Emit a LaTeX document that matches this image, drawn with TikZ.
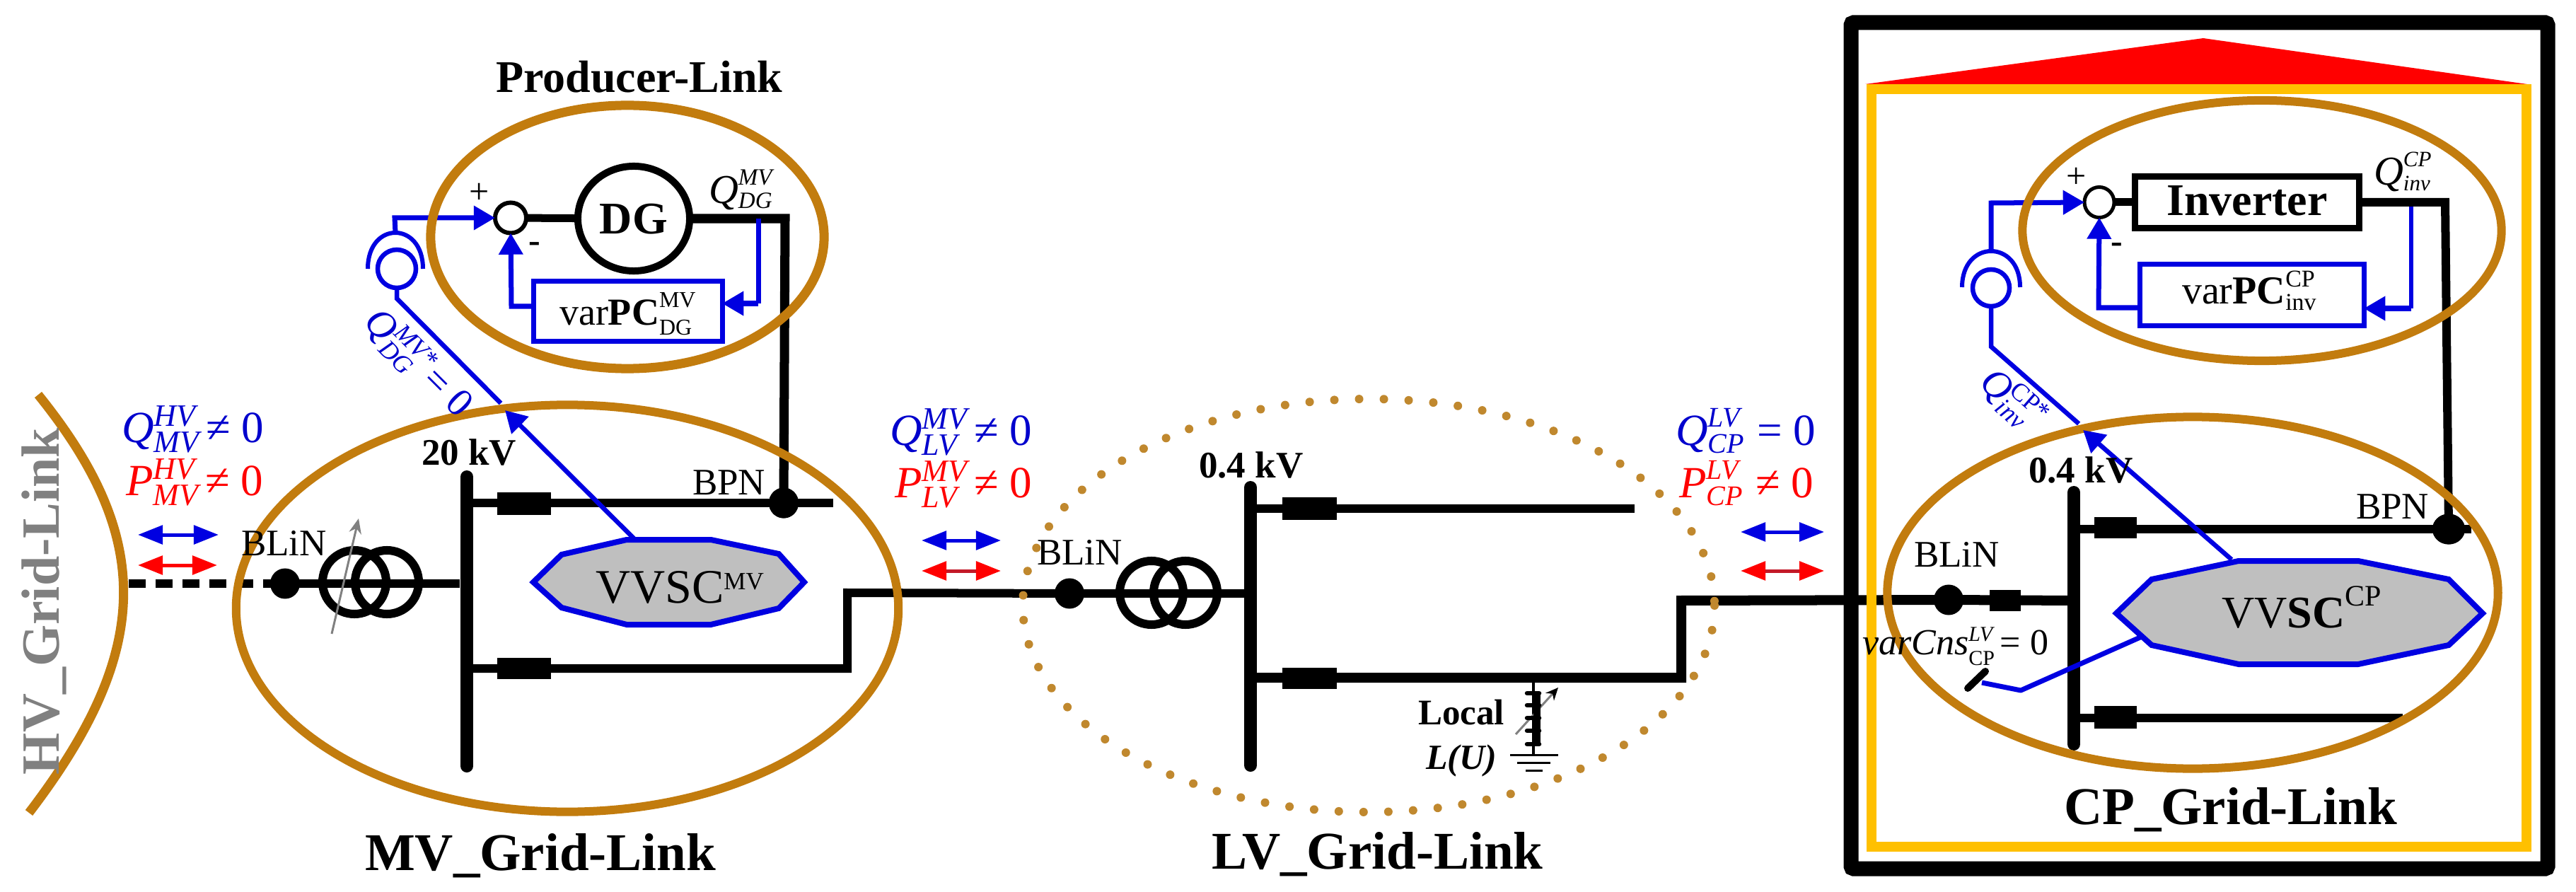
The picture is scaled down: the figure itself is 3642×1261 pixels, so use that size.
\documentclass[tikz,border=0pt]{standalone}
\usepackage{fontspec}
\setmainfont{Liberation Serif}
\usetikzlibrary{arrows.meta,shapes.geometric}
\def\p{0.2845pt}
\newcommand\fpx[1]{\fontsize{\fpeval{#1*0.2845}}{\fpeval{#1*0.34}}\selectfont}
% sup, sub, size(px), raise sup(px), raise sub(px)
\newcommand\scr[5]{\begingroup\fpx{#3}\sbox0{#1}\sbox2{#2}\dimen0=\wd0 \ifdim\wd2>\dimen0 \dimen0=\wd2\fi
\rlap{\raisebox{\fpeval{#4*0.2845}pt}{\usebox0}}\makebox[\dimen0][l]{\raisebox{\fpeval{#5*0.2845}pt}{\usebox2}}\endgroup}
\definecolor{brownc}{RGB}{194,124,14}
\definecolor{dotc}{RGB}{192,136,46}
\definecolor{blueL}{RGB}{0,0,225}
\definecolor{blueT}{RGB}{0,0,205}
\definecolor{grayV}{RGB}{191,191,191}
\definecolor{yellowC}{RGB}{255,192,0}
\definecolor{redD}{RGB}{195,25,40}
\tikzset{
 x=0.01cm,y=-0.01cm,
 txt/.style={inner sep=0pt,outer sep=0pt,anchor=base west},
 busbar/.style={draw=black,line width=18*\p,line cap=round},
 wire/.style={draw=black,line width=12*\p,line join=miter},
 thickwire/.style={draw=black,line width=14*\p,line join=miter},
 bdot/.style={ellipse,fill=black,inner sep=0pt,outer sep=0pt,minimum width=42*\p,minimum height=43*\p},
 breaker/.style={rectangle,fill=black,inner sep=0pt,outer sep=0pt},
 trafo/.style={circle,draw=black,line width=12*\p,inner sep=0pt,outer sep=0pt,minimum size=90*\p},
 link/.style={ellipse,draw=brownc,inner sep=0pt,outer sep=0pt,line width=12*\p},
 ctrl/.style={draw=blueL,line width=7*\p,line join=miter},
 vvsc/.style={draw=blueL,fill=grayV,line width=8*\p,line join=miter},
 sumc/.style={ellipse,draw=black,fill=white,line width=6*\p,inner sep=0pt,outer sep=0pt,minimum width=44*\p,minimum height=43*\p},
 bluebox/.style={rectangle,draw=blueL,line width=7*\p,inner sep=0pt,outer sep=0pt},
 flowB/.style={draw=blueL,line width=5*\p,{Triangle[length=10pt,width=7.5pt]}-{Triangle[length=10pt,width=7.5pt]}},
 flowR/.style={draw=red,line width=5*\p,{Triangle[length=10pt,width=7.5pt]}-{Triangle[length=10pt,width=7.5pt]}},
 flowRD/.style={draw=redD,line width=5*\p,{Triangle[length=10pt,width=7.5pt,color=red]}-{Triangle[length=10pt,width=7.5pt,color=red]}},
 headC/.style={-{Triangle[length=8.6pt,width=9.4pt]}},
 title/.style={txt,font=\fpx{75}\bfseries},
 lbl/.style={txt,font=\fpx{53}},
 lblb/.style={txt,font=\fpx{53}\bfseries},
 qb/.style={txt,font=\fpx{63},text=blueT},
 qr/.style={txt,font=\fpx{63},text=red},
 sgn/.style={inner sep=0pt,outer sep=0pt,font=\fpx{50}},
}
\begin{document}
\begin{tikzpicture}
\useasboundingbox (0,0) rectangle (3642,1261);
\fill[white] (0,0) rectangle (3642,1261);

% customer premises frame
\draw[line width=21*\p,line join=miter,rounded corners=1pt] (2617,32) rectangle (3602,1228);

% named positions
\coordinate (hvend) at (182,825);
\coordinate (mvbusT) at (660,674);
\coordinate (mvbusB) at (660,1083);
\coordinate (mvU) at (660,711);
\coordinate (mvUe) at (1178,711);
\coordinate (mvL) at (660,945);
\coordinate (mvLc) at (1198,945);
\coordinate (mvLd) at (1198,838);
\coordinate (lvbusT) at (1768,689);
\coordinate (lvbusB) at (1768,1082);
\coordinate (lvU) at (1768,719);
\coordinate (lvUe) at (2311,719);
\coordinate (lvL) at (1768,958);
\coordinate (lvLc) at (2377,958);
\coordinate (lvLd) at (2377,849);
\coordinate (cpbusT) at (2932,696);
\coordinate (cpbusB) at (2932,1052);
\coordinate (cpU) at (2932,748);
\coordinate (cpUe) at (3494,748);
\coordinate (cpL) at (2932,1015);
\coordinate (cpLe) at (3397,1015);
\coordinate (cpH) at (2932,849);
\coordinate (dgC) at (1110,309);
\coordinate (invC) at (3457,286);

% nodes of the network
\node[bdot] (blinMV) at (403,825) {};
\node[bdot] (bpnMV) at (1108,711) {};
\node[bdot] (blinLV) at (1512,839) {};
\node[bdot] (blinCP) at (2755,848) {};
\node[bdot,minimum width=46*\p] (bpnCP) at (3462,748) {};

% black wiring
\draw[wire,line width=12*\p,dash pattern=on 6.8pt off 4pt] (hvend) -- (blinMV.center);
\draw[wire] (blinMV.center) -- (650,825);
\draw[wire] (mvU) -- (mvUe);
\draw[wire] (mvL) -- (mvLc) -- (mvLd) -- (blinLV.center);
\draw[wire] (blinLV.center) -- (1760,839);
\draw[wire] (lvU) -- (lvUe);
\draw[thickwire] (lvL) -- (lvLc) -- (lvLd) -- (blinCP.center);
\draw[thickwire] (blinCP.center) -- (cpH);
\draw[wire] (cpU) -- (cpUe);
\draw[wire] (cpL) -- (cpLe);
\draw[busbar] (mvbusT) -- (mvbusB);
\draw[busbar] (lvbusT) -- (lvbusB);
\draw[busbar] (cpbusT) -- (cpbusB);

% transformers
\node[trafo] (t1a) at (501,823) {};
\node[trafo] (t1b) at (547,823) {};
\node[trafo] (t2a) at (1628,838) {};
\node[trafo] (t2b) at (1676,838) {};
\draw[draw=gray,line width=3*\p,-{Stealth[length=6pt,width=5pt]}] (469,896) -- (507,733);

% breakers
\node[breaker,minimum width=76*\p,minimum height=32*\p] (br1) at (741,712) {};
\node[breaker,minimum width=76*\p,minimum height=30*\p] (br2) at (741,945) {};
\node[breaker,minimum width=77*\p,minimum height=31*\p] (br3) at (1851,719) {};
\node[breaker,minimum width=77*\p,minimum height=30*\p] (br4) at (1851,959) {};
\node[breaker,minimum width=60*\p,minimum height=30*\p] (br5) at (2991,746) {};
\node[breaker,minimum width=60*\p,minimum height=32*\p] (br6) at (2991,1014) {};
\node[breaker,minimum width=44*\p,minimum height=30*\p] (br7) at (2835,849) {};

% local inductance
\coordinate (indT) at (2168,965);
\coordinate (gnd) at (2168,1067);
\draw[line width=3.5*\p] (indT) -- (gnd);
\draw[line width=3*\p,draw=gray,-{Stealth[length=5pt,width=4.5pt,color=black]}] (2143,1038) -- (2203,972);
\draw[line width=10*\p] (2173,980) -- (2173,1052);
\foreach \yy in {980,997,1015,1033,1052}
  \draw[line width=6.5*\p,line cap=round] (2159,\yy) -- (2176,\yy);
\draw[line width=3*\p] (2135,1067) -- (2203,1067);
\draw[line width=3*\p] (2145,1078) -- (2192,1078);
\draw[line width=3*\p] (2157,1089) -- (2181,1089);

% yellow house and red roof
\draw[draw=yellowC,line width=14*\p,line join=miter] (2646,126) rectangle (3572,1197);
\fill[red] (2637,119) -- (3115,54) -- (3573,119) -- cycle;

% producer control
\node[sumc] (sum1) at (722,308) {};
\node[circle,draw=black,fill=white,line width=10*\p,inner sep=0pt,outer sep=0pt,ellipse,minimum width=158*\p,minimum height=148*\p] (dg) at (896,309) {};
\node[bluebox,minimum width=266*\p,minimum height=85*\p] (pc1) at (888,440) {};
\draw[draw=black,line width=11*\p] (sum1) -- (dg);
\draw[draw=black,line width=13*\p,line join=miter] (dg) -- (dgC) -- (bpnMV.center);
\node[bdot] (bpnMVb) at (bpnMV) {};
\coordinate (fb1) at (1072,309);
\coordinate (fb1b) at (1072,429);
\draw[ctrl] (fb1) -- (fb1b);
\draw[ctrl,headC] (fb1b) -- (pc1.east|-fb1b);
\draw[ctrl,headC] (pc1.west|-0,433) -- (723,433) -- (sum1.south);

% sensor, producer
\node[circle,draw=blueL,line width=6.5*\p,inner sep=0pt,outer sep=0pt,minimum size=54*\p] (sens1) at (561,380) {};
\coordinate (sens1top) at (559,329);
\draw[draw=blueL,line width=6*\p] (520,380) .. controls (520,312) and (598,312) .. (598,380);
\draw[ctrl,headC] (sens1top) -- (558,308) -- (sum1.west);
\coordinate (kn1) at (561,422);
\coordinate (arr1) at (708,570);
\draw[draw=blueL,line width=6.5*\p,line join=miter] (sens1.south) -- (kn1) -- (arr1);

% inverter control
\node[sumc,minimum width=42*\p,line width=5*\p] (sum2) at (2968,286) {};
\node[rectangle,draw=black,fill=white,line width=9*\p,inner sep=0pt,outer sep=0pt,minimum width=316*\p,minimum height=72*\p] (inv) at (3177,286) {};
\node[bluebox,minimum width=316*\p,minimum height=87*\p] (pc2) at (3184,417) {};
\draw[draw=black,line width=11*\p] (sum2) -- (inv);
\draw[draw=black,line width=12*\p,line join=miter] (inv) -- (invC) -- (bpnCP.center);
\node[bdot,minimum width=46*\p] (bpnCPb) at (bpnCP) {};
\coordinate (fb2) at (3409,292);
\coordinate (fb2b) at (3409,436);
\draw[ctrl,line width=6*\p] (fb2) -- (fb2b);
\draw[ctrl,headC] (fb2b) -- (pc2.east|-fb2b);
\draw[ctrl,headC] (pc2.west|-0,435) -- (2967,435) -- (sum2.south);

% sensor, inverter
\node[circle,draw=blueL,line width=6.5*\p,inner sep=0pt,outer sep=0pt,minimum size=52*\p] (sens2) at (2815,407) {};
\coordinate (sens2top) at (2815,355);
\draw[draw=blueL,line width=6*\p] (2774,406) .. controls (2774,338) and (2856,338) .. (2856,406);
\draw[ctrl,headC] (sens2top) -- (2815,287) -- (sum2.west);
\coordinate (kn2) at (2815,490);
\coordinate (arr2) at (2939,599);
\draw[draw=blueL,line width=6.5*\p,line join=miter] (sens2.south) -- (kn2) -- (arr2);

% VVSC shapes
\draw[vvsc] (754,823) -- (794,784) -- (886,763) -- (1005,763) -- (1101,783) -- (1137,823) -- (1101,860) -- (1005,883) -- (886,883) -- (794,859) -- cycle;
\draw[vvsc] (2992,867) -- (3042,819) -- (3165,793) -- (3334,793) -- (3462,819) -- (3510,867) -- (3462,912) -- (3334,939) -- (3165,939) -- (3042,912) -- cycle;
\coordinate (vtop1) at (896,761);
\coordinate (tip1) at (714,580);
\coordinate (vtop2) at (3155,791);
\coordinate (tip2) at (2945,608);

% switch at the customer side
\coordinate (vs) at (3028,900);
\coordinate (sk) at (2857,976);
\coordinate (st) at (2802,965);
\draw[ctrl,line join=round] (vs) -- (sk) -- (st);
\draw[line width=10*\p,line cap=round] (2782,973) -- (2807,949);

% grid links
\node[link,minimum width=556*\p,minimum height=372*\p,line width=13*\p] (producer) at (887,335) {};
\node[link,minimum width=936*\p,minimum height=575*\p] (mvlink) at (802,860) {};
\node[link,minimum width=677*\p,minimum height=368*\p] (invlink) at (3198,326) {};
\node[link,minimum width=863*\p,minimum height=497*\p] (cplink) at (3100,838) {};
\draw[draw=dotc,line width=12*\p,line cap=round,dash pattern=on 0pt off 9.96pt] (1935,856) ellipse [x radius=489,y radius=292];
\coordinate (hvT) at (54,558);
\coordinate (hvB) at (41,1149);
\draw[draw=brownc,line width=13*\p] (hvT) .. controls (217,760) and (217,919) .. (hvB);

% arrows onto the link ellipses
\draw[ctrl,line width=6.5*\p,headC] (vtop1) -- (tip1);
\draw[ctrl,line width=6.5*\p,headC] (vtop2) -- (tip2);

% flow arrows
\coordinate (a1l) at (195,756); \coordinate (a1r) at (309,756);
\coordinate (a2l) at (195,799); \coordinate (a2r) at (307,799);
\coordinate (a3l) at (1303,764); \coordinate (a3r) at (1415,764);
\coordinate (a4l) at (1303,807); \coordinate (a4r) at (1415,807);
\coordinate (a5l) at (2461,752); \coordinate (a5r) at (2579,752);
\coordinate (a6l) at (2461,807); \coordinate (a6r) at (2579,807);
\draw[flowB] (a1l) -- (a1r);
\draw[flowR] (a2l) -- (a2r);
\draw[flowB] (a3l) -- (a3r);
\draw[flowRD] (a4l) -- (a4r);
\draw[flowB] (a5l) -- (a5r);
\draw[flowRD] (a6l) -- (a6r);

% titles
\node[txt,font=\fpx{64}\bfseries] (tProd) at (701,131) {Producer-Link};
\node[title] (tMV) at (516,1230) {MV\_Grid-Link};
\node[title] (tLV) at (1713,1228) {LV\_Grid-Link};
\node[title] (tCP) at (2918,1165) {CP\_Grid-Link};
\node[inner sep=0pt,outer sep=0pt,anchor=base,rotate=90,font=\fpx{76}\bfseries,text=gray] (tHV) at (83,850) {HV\_Grid-Link};

% flow labels
\node[qb] (q1) at (172,625) {\textit{Q}\scr{\textit{HV}}{\textit{MV}}{44}{22}{-14}\hspace{.1em}≠ 0};
\node[qr] (p1) at (178,700) {\textit{P}\scr{\textit{HV}}{\textit{MV}}{44}{22}{-14}\hspace{.1em}≠ 0};
\node[qb] (q2) at (1258,629) {\textit{Q}\scr{\textit{MV}}{\textit{LV}}{44}{22}{-14}\hspace{.1em}≠ 0};
\node[qr] (p2) at (1265,703) {\textit{P}\scr{\textit{MV}}{\textit{LV}}{44}{22}{-14}\hspace{.1em}≠ 0};
\node[qb] (q3) at (2369,629) {\textit{Q}\scr{\textit{LV}}{\textit{CP}}{40}{25}{-11}\hspace{.3em}= 0};
\node[qr] (p3) at (2374,703) {\textit{P}\scr{\textit{LV}}{\textit{CP}}{40}{25}{-11}\hspace{.3em}≠ 0};

% local labels
\node[lbl] (blin1) at (341,785) {BLiN};
\node[lbl] (blin2) at (1466,798) {BLiN};
\node[lbl] (blin3) at (2706,801) {BLiN};
\node[lbl] (bpn1) at (979,699) {BPN};
\node[lbl] (bpn2) at (3331,733) {BPN};
\node[lblb] (kv1) at (596,657) {20 kV};
\node[lblb] (kv2) at (1695,675) {0.4 kV};
\node[lblb] (kv3) at (2868,682) {0.4 kV};
\node[txt,font=\fpx{51}\bfseries] (loc1) at (2005,1024) {Local};
\node[txt,font=\fpx{50}\bfseries\itshape] (loc2) at (2016,1087) {L(U)};

% block texts
\node[inner sep=0pt,outer sep=0pt,anchor=base,font=\fpx{64}\bfseries] (tDG) at (896,331) {DG};
\node[inner sep=0pt,outer sep=0pt,anchor=base,font=\fpx{64}\bfseries] (tInv) at (3177,305) {Inverter};
\node[sgn] (pl1) at (678,273) {+};
\node[sgn,font=\fpx{50}\bfseries] (mn1) at (756,350) {-};
\node[sgn] (pl2) at (2936,251) {+};
\node[sgn,font=\fpx{50}\bfseries] (mn2) at (2993,351) {-};
\node[txt,font=\fpx{54}] (tpc1) at (791,460) {var\textbf{PC}\scr{MV}{DG}{32}{25}{-13}};
\node[txt,font=\fpx{56}] (tpc2) at (3085,430) {var\textbf{PC}\scr{CP}{inv}{34}{24}{-8}};
\node[txt,font=\fpx{58}] (qdg) at (1002,288) {\textit{Q}\scr{\textit{MV}}{\textit{DG}}{33}{26}{-6}};
\node[txt,font=\fpx{58}] (qinv) at (3356,262) {\textit{Q}\scr{\textit{CP}}{\textit{inv}}{31}{26}{-8}};
\node[txt,font=\fpx{68}] (tv1) at (842,852) {VVSC\scr{MV}{}{35}{18}{0}};
\node[txt,font=\fpx{64}] (tv2) at (3141,887) {VV\textbf{SC}\scr{CP}{}{42}{30}{0}};
\node[inner sep=0pt,outer sep=0pt,rotate=-45,font=\fpx{56},text=blueT] (qstar1) at (591,514) {\textit{Q}\scr{\textit{MV*}}{\textit{DG}}{36}{20}{-12}\hspace{.1em}= 0};
\node[inner sep=0pt,outer sep=0pt,rotate=-41,font=\fpx{56},text=blueT] (qstar2) at (2845,566) {\textit{Q}\scr{CP*}{\textit{inv}}{36}{20}{-12}};
\node[txt,font=\fpx{52}] (tcns) at (2633,925) {\textit{varCns}\scr{\textit{LV}}{CP}{30}{18}{-15}\hspace{.15em}= 0};
\end{tikzpicture}
\end{document}
